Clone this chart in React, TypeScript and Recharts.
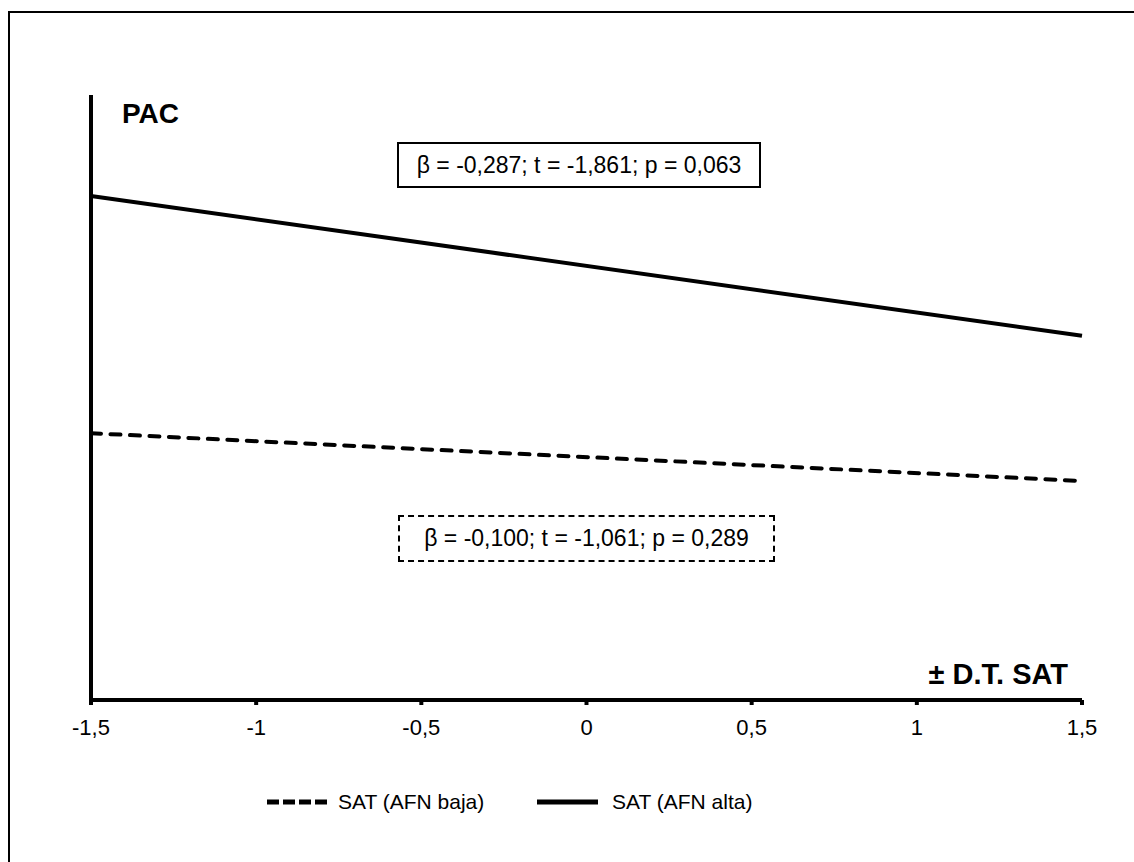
import { CartesianGrid, Line, LineChart, XAxis, YAxis } from 'recharts';

// valores (eje Y sin escala, 0–100 arbitrario)
const xValues = [-1.5, 1.5];
const afnBaja = [44.1, 36.2];
const afnAlta = [83.3, 60.2];
const xTicks = [-1.5, -1, -0.5, 0, 0.5, 1, 1.5];

const data = xValues.map((x, i) => ({ x, baja: afnBaja[i], alta: afnAlta[i] }));

const FONT = '"Liberation Sans", Arial, sans-serif';
const fmt = (v: number) => String(v).replace('.', ',');

export default function App() {
  return (
    <div style={{ position: 'relative', width: 1134, height: 862, overflow: 'hidden', background: '#fff', fontFamily: FONT }}>
      <style>{'body{margin:0}'}</style>
      <div
        style={{
          position: 'absolute',
          left: 8,
          top: 11,
          width: 1200,
          height: 900,
          borderTop: '2px solid #000',
          borderLeft: '2px solid #000',
        }}
      />
      <LineChart
        width={1134}
        height={862}
        data={data}
        margin={{ top: 95, right: 52, left: 81, bottom: 122 }}
        style={{ position: 'absolute', left: 0, top: 0 }}
      >
        <CartesianGrid horizontal={false} vertical={false} />
        <XAxis
          dataKey="x"
          type="number"
          domain={[-1.5, 1.5]}
          ticks={xTicks}
          tickFormatter={fmt}
          height={40}
          tickSize={5}
          tickMargin={14}
          axisLine={{ stroke: '#000', strokeWidth: 4 }}
          tickLine={{ stroke: '#000', strokeWidth: 4 }}
          tick={{ fill: '#000', fontSize: 22, fontFamily: FONT }}
        />
        <YAxis
          type="number"
          domain={[0, 100]}
          width={10}
          tick={false}
          tickLine={false}
          axisLine={{ stroke: '#000', strokeWidth: 4 }}
        />
        <Line
          dataKey="baja"
          stroke="#000"
          strokeWidth={4}
          strokeDasharray="10 9.5"
          strokeLinecap="round"
          dot={false}
          isAnimationActive={false}
        />
        <Line dataKey="alta" stroke="#000" strokeWidth={4} dot={false} isAnimationActive={false} />
      </LineChart>

      <svg width={1134} height={862} style={{ position: 'absolute', left: 0, top: 0, pointerEvents: 'none' }}>
        <text x={122} y={123} fontFamily={FONT} fontWeight="bold" fontSize={28} fill="#000">
          PAC
        </text>
        <text x={1068} y={684} textAnchor="end" fontFamily={FONT} fontWeight="bold" fontSize={29} fill="#000">
          ± D.T. SAT
        </text>
        {/* leyenda */}
        <line x1={267} y1={802} x2={327} y2={802} stroke="#000" strokeWidth={5} strokeDasharray="12 4" />
        <text x={338} y={809} fontFamily={FONT} fontSize={21} fill="#000">
          SAT (AFN baja)
        </text>
        <line x1={537} y1={802} x2={598} y2={802} stroke="#000" strokeWidth={5} />
        <text x={612} y={809} fontFamily={FONT} fontSize={21} fill="#000">
          SAT (AFN alta)
        </text>
      </svg>

      <div
        style={{
          position: 'absolute',
          left: 397,
          top: 142,
          width: 364,
          height: 46,
          boxSizing: 'border-box',
          border: '2px solid #000',
          display: 'flex',
          alignItems: 'center',
          justifyContent: 'center',
          fontSize: 23,
        }}
      >
        β = -0,287; t = -1,861; p = 0,063
      </div>
      <div
        style={{
          position: 'absolute',
          left: 398,
          top: 515,
          width: 377,
          height: 47,
          boxSizing: 'border-box',
          border: '2px dashed #000',
          display: 'flex',
          alignItems: 'center',
          justifyContent: 'center',
          fontSize: 23,
        }}
      >
        β = -0,100; t = -1,061; p = 0,289
      </div>
    </div>
  );
}
